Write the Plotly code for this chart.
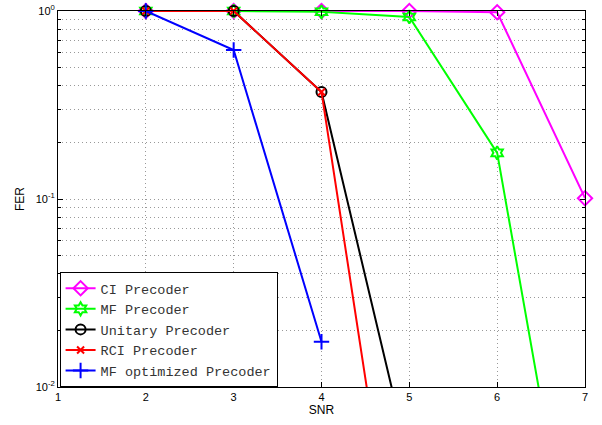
import plotly.graph_objects as go

snr = [2, 3, 4, 5, 6, 7]
ci = [1.0, 1.0, 1.0, 1.0, 0.985, 0.101]
mf = [1.0, 1.0, 0.99, 0.93, 0.176, 0.0004]
unitary_x = [2, 3, 4, 5]
unitary = [1.0, 1.0, 0.371, 0.004]
rci_x = [2, 3, 4, 5]
rci = [1.0, 1.0, 0.371, 0.00033]
mfopt_x = [2, 3, 4]
mfopt = [1.0, 0.62, 0.0174]

names = ["CI Precoder", "MF Precoder", "Unitary Precoder", "RCI Precoder", "MF optimized Precoder"]
ytick_vals = [0.01, 0.1, 1]
ytick_text = ["10<sup>-2</sup>", "10<sup>-1</sup>", "10<sup>0</sup>"]

fig = go.Figure()
series = [
    (snr, ci, names[0], "#ff00ff", "diamond-open", 11),
    (snr, mf, names[1], "#00ff00", "hexagram-open", 10),
    (unitary_x, unitary, names[2], "#000000", "circle-open", 10),
    (rci_x, rci, names[3], "#ff0000", "x-thin-open", 7),
    (mfopt_x, mfopt, names[4], "#0000ff", "cross-thin-open", 11),
]
for x, y, n, c, sym, sz in series:
    fig.add_trace(go.Scatter(
        x=x, y=y, name=n, mode="lines+markers", cliponaxis=False,
        line=dict(color=c, width=2),
        marker=dict(symbol=sym, size=sz, color=c, line=dict(color=c, width=2)),
    ))

grid = "#999999"
fig.update_layout(
    width=602, height=425,
    margin=dict(l=58, r=17, t=11, b=38, autoexpand=False),
    plot_bgcolor="white", paper_bgcolor="white",
    font=dict(family="Liberation Sans, Arial", size=11, color="black"),
    showlegend=True,
    legend=dict(
        x=0.003, y=0.0, xanchor="left", yanchor="bottom",
        bgcolor="white", bordercolor="black", borderwidth=1,
        font=dict(family="Liberation Mono, Courier New", size=13.5, color="#333"),
        tracegroupgap=0, itemwidth=30,
    ),
)
fig.update_xaxes(
    range=[1, 7], dtick=1, tick0=1, automargin=False,
    showline=True, linecolor="black", linewidth=1, mirror="ticks",
    ticks="inside", ticklen=5, tickcolor="black",
    showgrid=True, gridcolor=grid, griddash="1px,3px", gridwidth=1,
    zeroline=False,
    title=dict(text="SNR", standoff=0, font=dict(size=12)),
)
fig.update_yaxes(
    type="log", range=[-2, 0], automargin=False,
    tickvals=ytick_vals, ticktext=ytick_text,
    showline=True, linecolor="black", linewidth=1, mirror="ticks",
    ticks="inside", ticklen=5, tickcolor="black",
    showgrid=True, gridcolor=grid, griddash="1px,3px", gridwidth=1,
    minor=dict(dtick="D1", showgrid=True, gridcolor=grid, griddash="1px,3px",
               ticks="inside", ticklen=3, tickcolor="black"),
    zeroline=False,
    title=dict(text="FER", standoff=8, font=dict(size=12)),
)
fig.write_html("out.html", config={"displayModeBar": False},
               post_script="document.body.style.margin='0';")
